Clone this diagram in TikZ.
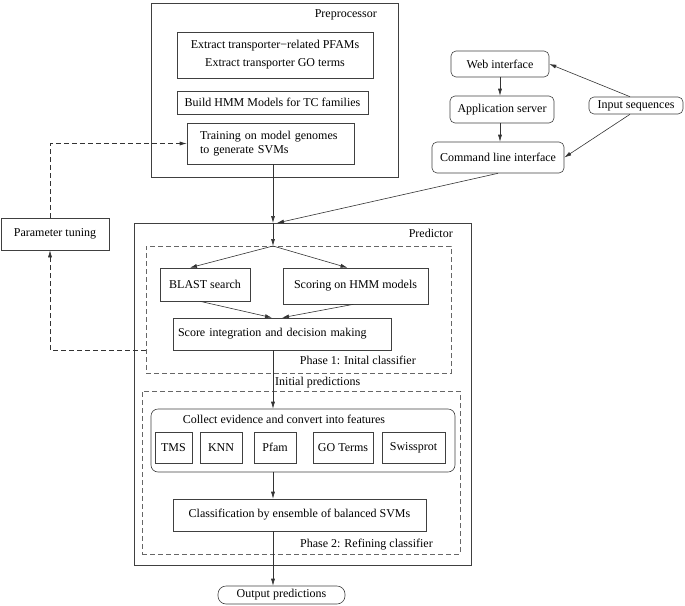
\documentclass[tikz,border=0pt]{standalone}
\usepackage{fontspec}
\setmainfont{Liberation Serif}
\usetikzlibrary{arrows.meta}

\begin{document}
\begin{tikzpicture}[x=1pt,y=-1pt,>={Latex[length=7pt,width=4pt]},
  every node/.style={font=\fontsize{12}{14}\selectfont},
  box/.style={draw=black!75,line width=.6pt,inner sep=0},
  rbox/.style={box,rounded corners=5pt},
  phase/.style={draw=black!60,line width=.6pt,dash pattern=on 5pt off 3pt,inner sep=0},
  lbl/.style={inner sep=0},
  wire/.style={black!80,line width=.6pt}]
\useasboundingbox (0,0) rectangle (685,605);

% preprocessor
\node[box,minimum width=247,minimum height=174] (pre) at (274.5,90) {};
\node[lbl,anchor=east] (prelbl) at (377,15) {Preprocessor};
\node[box,minimum width=196,minimum height=46,align=center,font=\fontsize{12}{18}\selectfont] (extract) at (275,55) {Extract transporter−related PFAMs\\ Extract transporter GO terms};
\node[box,minimum width=191,minimum height=23] (build) at (272.5,102.5) {Build HMM Models for TC families};
\node[box,minimum width=167,minimum height=41,text width=141,align=left,font=\fontsize{12}{14}\selectfont] (train) at (270.5,143.5) {Training on model genomes\\ to generate SVMs};

% interfaces
\node[rbox,minimum width=98,minimum height=26] (web) at (500,64) {Web interface};
\node[rbox,minimum width=104,minimum height=27] (app) at (502,109.5) {Application server};
\node[rbox,minimum width=132,minimum height=31] (cmd) at (498,157.5) {Command line interface};
\node[rbox,minimum width=94,minimum height=17] (inp) at (636,105.5) {Input sequences};

\node[box,minimum width=108,minimum height=32] (tune) at (55,234) {Parameter tuning};

% predictor
\node[box,minimum width=337,minimum height=342] (pred) at (302.5,394) {};
\node[lbl,anchor=east] (predlbl) at (453,233) {Predictor};
\node[phase,minimum width=305,minimum height=127] (phase1) at (298.5,309.5) {};
\node[lbl,anchor=east] (ph1lbl) at (416,360) {Phase 1: Inital classifier};
\node[box,minimum width=90,minimum height=33] (blast) at (205,284.5) {BLAST search};
\node[box,minimum width=145,minimum height=36] (hmm) at (355.5,286) {Scoring on HMM models};
\node[box,minimum width=218,minimum height=32,text width=208,align=left] (score) at (282,334) {Score integration and decision making};

\node[phase,minimum width=318,minimum height=163] (phase2) at (301,472.5) {};
\node[lbl,anchor=east] (ph2lbl) at (433,545) {Phase 2: Refining classifier};
\node[box,rounded corners=7pt,minimum width=304,minimum height=63] (collect) at (303,440.5) {};
\node[lbl] (collbl) at (284,419) {Collect evidence and convert into features};
\node[box,minimum width=37,minimum height=31] (tms) at (173.5,447.5) {TMS};
\node[box,minimum width=42,minimum height=31] (knn) at (221,447.5) {KNN};
\node[box,minimum width=42,minimum height=31] (pfam) at (275,447.5) {Pfam};
\node[box,minimum width=60,minimum height=31] (go) at (343,447.5) {GO Terms};
\node[box,minimum width=63,minimum height=31] (swiss) at (413.5,447.5) {Swissprot};
\node[box,minimum width=253,minimum height=32] (cls) at (299.5,515) {Classification by ensemble of balanced SVMs};
\node[box,rounded corners=8pt,minimum width=127,minimum height=18] (out) at (281.5,595) {Output predictions};

\coordinate (join) at (273,223);
\coordinate (split) at (273,246);
\node[lbl,anchor=west] (initlbl) at (275,383) {Initial predictions};

% connectors
\draw[wire,->] (web.south) -- (web.south |- app.north);
\draw[wire,->] (web.south |- app.south) -- (web.south |- cmd.north);
\draw[wire,->] ([xshift=-6pt]inp.north) -- (web.east);
\draw[wire,->] ([xshift=-6pt]inp.south) -- (cmd.east);
\draw[wire,->] (train.south -| join) -- (join);
\draw[wire,->] (cmd.south) -- ([xshift=4pt]join);
\draw[wire,->] (join) -- (split);
\draw[wire,->] (split) -- ([xshift=-15pt]blast.north);
\draw[wire,->] (split) -- ([xshift=-8pt]hmm.north);
\draw[wire,->] ([xshift=-5pt]blast.south) -- ([xshift=-10pt]score.north);
\draw[wire,->] ([xshift=-2pt]hmm.south) -- (score.north);
\draw[wire,->] (join |- score.south) -- (join |- collect.north);
\draw[wire,->] (join |- collect.south) -- (join |- cls.north);
\draw[wire,->] (join |- cls.south) -- (join |- out.north);
\draw[wire,dash pattern=on 5pt off 3pt,->] (phase1.west |- score.south) -| ([xshift=-5pt]tune.south);
\draw[wire,dash pattern=on 5pt off 3pt,->] ([xshift=-5pt]tune.north) |- (train.west);
\end{tikzpicture}
\end{document}
